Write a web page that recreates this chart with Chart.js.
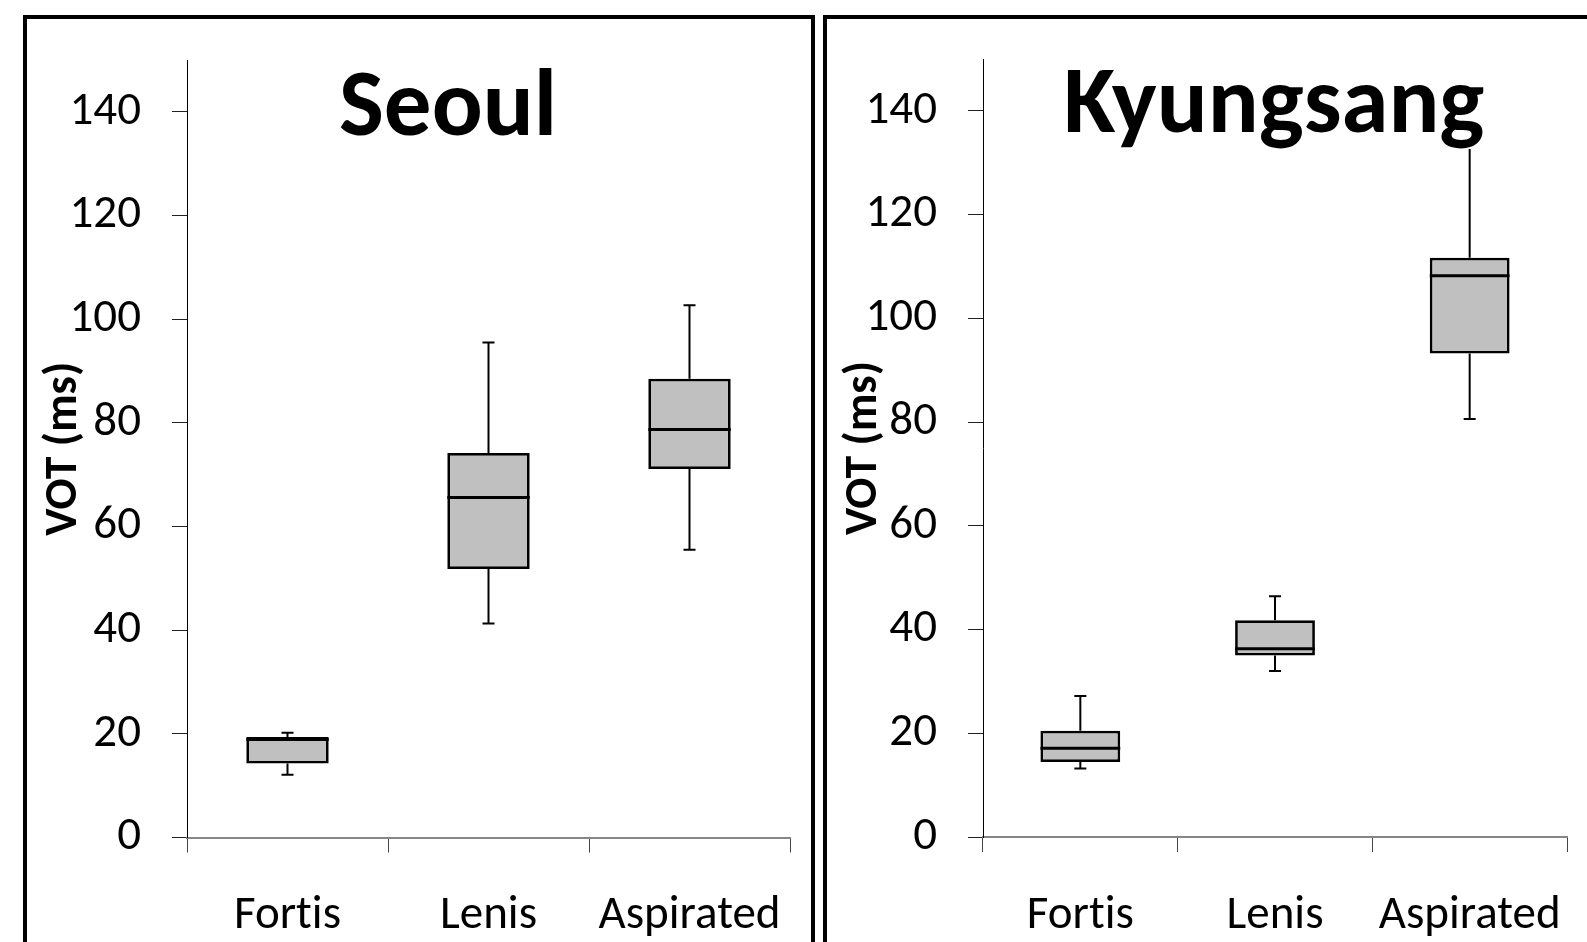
<!DOCTYPE html>
<html>
<head>
<meta charset="utf-8">
<script src="https://cdn.jsdelivr.net/npm/chart.js@4.4.1/dist/chart.umd.min.js"></script>
<style>
	body { margin: 0; background: #fff; overflow: hidden; width: 1587px; height: 942px; position: relative; }
	.panel { position: absolute; border: 4px solid #000; box-sizing: border-box; }
	#panelLeft { left: 23px; top: 15px; width: 792px; height: 1000px; }
	#panelRight { left: 823px; top: 15px; width: 800px; height: 1000px; }
	canvas { position: absolute; font-variant-ligatures: none; }
	#seoul { left: 27px; top: 19px; }
	#kyungsang { left: 827px; top: 19px; }
</style>
</head>
<body>
<div class="panel" id="panelLeft"></div>
<div class="panel" id="panelRight"></div>
<canvas id="seoul" width="784" height="923"></canvas>
<canvas id="kyungsang" width="760" height="923"></canvas>
<script>
// Data (VOT in ms)
const categories = ["Fortis", "Lenis", "Aspirated"];
const yTicks = [0, 20, 40, 60, 80, 100, 120, 140];

const seoulMin = [12.1, 41.3, 55.5];
const seoulQ1 = [14.3, 51.8, 71.1];
const seoulMedian = [18.9, 65.6, 78.7];
const seoulQ3 = [19.4, 74.2, 88.5];
const seoulMax = [20.2, 95.5, 102.7];

const kyungMin = [13.2, 32.0, 80.6];
const kyungQ1 = [14.45, 35.0, 93.2];
const kyungMedian = [17.1, 36.3, 108.2];
const kyungQ3 = [20.5, 41.8, 111.7];
const kyungMax = [27.2, 46.4, 136];

// pick an installed narrow font (Calibri look-alike) and size it to the picture
function pickFont(list) {
	const c = document.createElement("canvas").getContext("2d");
	const probe = "Aspirated 0123456789 VOT";
	for (const f of list) {
		for (const base of ["monospace", "serif"]) {
			c.font = "40px " + base;
			const a = c.measureText(probe).width;
			c.font = '40px "' + f + '", ' + base;
			const b = c.measureText(probe).width;
			if (a !== b) return f;
		}
	}
	return "sans-serif";
}
const family = pickFont(["Carlito", "Liberation Sans Narrow", "Open Sans", "Noto Sans"]);
function fitSize(text, weight, target) {
	const c = document.createElement("canvas").getContext("2d");
	c.font = weight + " 100px " + '"' + family + '"';
	return Math.min(100 * target / c.measureText(text).width, 200);
}
const labelSize = Math.min(47, fitSize("Aspirated", "normal", 184));
const axisTitleSize = Math.min(46, fitSize("VOT (ms)", "bold", 176));
const bigTitleSize = Math.min(98, fitSize("Seoul", "bold", 218));

// no "ti" ligature, like the original
const noLigatures = {
	id: "noLigatures",
	beforeDraw(chart) {
		chart.ctx.letterSpacing = "0.01px";
	},
};

// whiskers, medians and panel title
const boxExtras = {
	id: "boxExtras",
	afterDatasetsDraw(chart, args, opts) {
		const ctx = chart.ctx;
		const y = chart.scales.y;
		const meta = chart.getDatasetMeta(0);
		ctx.save();
		ctx.strokeStyle = "#000";
		meta.data.forEach((bar, i) => {
			const x = bar.x;
			const half = bar.width / 2;
			const yMin = y.getPixelForValue(opts.min[i]);
			const yMax = y.getPixelForValue(opts.max[i]);
			const yQ1 = y.getPixelForValue(opts.q1[i]);
			const yQ3 = y.getPixelForValue(opts.q3[i]);
			const yMed = y.getPixelForValue(opts.median[i]);
			ctx.lineWidth = 2;
			ctx.beginPath();
			ctx.moveTo(x, yQ3); ctx.lineTo(x, yMax);
			ctx.moveTo(x - 6, yMax); ctx.lineTo(x + 6, yMax);
			ctx.moveTo(x, yQ1); ctx.lineTo(x, yMin);
			ctx.moveTo(x - 6, yMin); ctx.lineTo(x + 6, yMin);
			ctx.stroke();
			ctx.lineWidth = 3;
			ctx.beginPath();
			ctx.moveTo(x - half, yMed); ctx.lineTo(x + half, yMed);
			ctx.stroke();
		});
		// title sits in a white text box on top of the plot
		ctx.font = "bold " + bigTitleSize + 'px "' + family + '"';
		ctx.textAlign = "center";
		ctx.textBaseline = "alphabetic";
		const m = ctx.measureText(opts.title);
		ctx.fillStyle = "#fff";
		ctx.fillRect(opts.titleX - m.width / 2, opts.titleY - m.actualBoundingBoxAscent,
			m.width, m.actualBoundingBoxAscent + m.actualBoundingBoxDescent);
		ctx.fillStyle = "#000";
		ctx.fillText(opts.title, opts.titleX, opts.titleY);
		ctx.restore();
	},
};

function makeChart(id, q1, q3, med, mn, mx, title, titleX, titleY, yWidth, padTop, padRight, xHeight) {
	return new Chart(document.getElementById(id), {
		type: "bar",
		data: {
			labels: categories,
			datasets: [
				{
					data: q1.map((v, i) => [v, q3[i]]),
					backgroundColor: "#c0c0c0",
					borderColor: "#000",
					borderWidth: 2.75,
					borderSkipped: false,
					barPercentage: 0.41,
					categoryPercentage: 1,
				},
			],
		},
		options: {
			responsive: false,
			animation: false,
			layout: { padding: { top: padTop, right: padRight, left: 0, bottom: 0 } },
			plugins: {
				legend: { display: false },
				tooltip: { enabled: false },
				boxExtras: {
					q1: q1, q3: q3, median: med, min: mn, max: mx,
					title: title, titleX: titleX, titleY: titleY,
				},
			},
			scales: {
				x: {
					offset: true,
					grid: {
						offset: true,
						drawOnChartArea: false,
						drawTicks: true,
						tickLength: 15,
						color: "#444",
					},
					border: { color: "#868686", width: 2 },
					ticks: {
						color: "#000",
						padding: 36,
						font: { family: family, size: labelSize },
						maxRotation: 0,
					},
					afterFit: (s) => {
						s.height = xHeight;
						s.paddingLeft = 0; s.paddingRight = 0;
					},
				},
				y: {
					min: 0,
					max: 150,
					afterBuildTicks: (s) => { s.ticks = yTicks.map((v) => ({ value: v })); },
					grid: {
						drawOnChartArea: false,
						drawTicks: true,
						tickLength: 15,
						color: "#222",
					},
					border: { color: "#000", width: 1 },
					ticks: {
						color: "#000",
						padding: 31,
						font: { family: family, size: labelSize },
					},
					title: {
						display: true,
						text: "VOT (ms)",
						color: "#000",
						font: { family: family, size: axisTitleSize, weight: "bold", lineHeight: 1.2 },
						padding: { top: 37 - axisTitleSize * 0.6, bottom: 0 },
					},
					afterFit: (s) => {
						s.width = yWidth;
						s.paddingTop = 0; s.paddingBottom = 0;
					},
				},
			},
		},
		plugins: [noLigatures, boxExtras],
	});
}

makeChart("seoul", seoulQ1, seoulQ3, seoulMedian, seoulMin, seoulMax,
	"Seoul", 421, 116, 160, 41, 21, 104.5);
makeChart("kyungsang", kyungQ1, kyungQ3, kyungMedian, kyungMin, kyungMax,
	"Kyungsang", 447, 113, 156, 40, 20, 105);
</script>
</body>
</html>
